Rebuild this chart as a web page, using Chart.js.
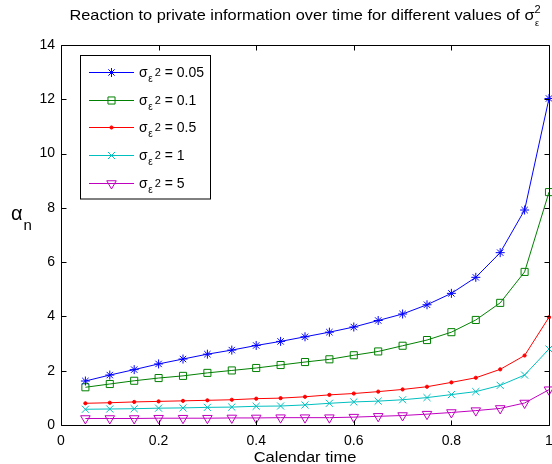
<!DOCTYPE html>
<html>
<head>
<meta charset="utf-8">
<script src="https://cdn.jsdelivr.net/npm/chart.js@4.4.1/dist/chart.umd.min.js"></script>
<style>
  html, body { margin: 0; padding: 0; background: #ffffff; }
  canvas { display: block; }
</style>
</head>
<body>
<canvas id="chart" width="552" height="464"></canvas>
<script>
// Calendar time grid (x) and reaction coefficient alpha_n for each noise variance
const calendarTime = [0.05, 0.10, 0.15, 0.20, 0.25, 0.30, 0.35, 0.40, 0.45, 0.50,
                      0.55, 0.60, 0.65, 0.70, 0.75, 0.80, 0.85, 0.90, 0.95, 1.00];

const alphaVar005 = [1.62, 1.84, 2.04, 2.25, 2.43, 2.61, 2.76, 2.93, 3.08, 3.25,
                     3.42, 3.61, 3.85, 4.09, 4.43, 4.85, 5.44, 6.35, 7.92, 12.03];
const alphaVar01  = [1.39, 1.51, 1.63, 1.73, 1.81, 1.92, 2.01, 2.10, 2.21, 2.32,
                     2.42, 2.57, 2.71, 2.92, 3.13, 3.42, 3.87, 4.50, 5.64, 8.58];
const alphaVar05  = [0.80, 0.82, 0.85, 0.87, 0.89, 0.91, 0.93, 0.97, 0.99, 1.04,
                     1.11, 1.16, 1.23, 1.31, 1.41, 1.57, 1.74, 2.05, 2.56, 3.97];
const alphaVar1   = [0.58, 0.59, 0.60, 0.62, 0.63, 0.65, 0.66, 0.69, 0.70, 0.74,
                     0.80, 0.85, 0.88, 0.93, 1.01, 1.12, 1.23, 1.46, 1.84, 2.80];
const alphaVar5   = [0.24, 0.24, 0.24, 0.25, 0.25, 0.25, 0.26, 0.26, 0.27, 0.27,
                     0.27, 0.29, 0.32, 0.35, 0.40, 0.46, 0.53, 0.61, 0.81, 1.30];

const varianceLabels = ['0.05', '0.1', '0.5', '1', '5'];
const xTickValues = [0, 0.2, 0.4, 0.6, 0.8, 1];
const yTickValues = [0, 2, 4, 6, 8, 10, 12, 14];

const FONT = "'Liberation Sans', Arial, Helvetica, sans-serif";

const seriesStyles = [
  { color: '#0000ff', pointStyle: 'star',     radius: 4.5, rotation: 0,   fill: false },
  { color: '#008000', pointStyle: 'rect',     radius: 5,   rotation: 0,   fill: false },
  { color: '#ff0000', pointStyle: 'circle',   radius: 1.6, rotation: 0,   fill: true  },
  { color: '#00bfbf', pointStyle: 'crossRot', radius: 5,   rotation: 0,   fill: false },
  { color: '#bf00bf', pointStyle: 'triangle', radius: 5.5, rotation: 180, fill: false }
];

const seriesValues = [alphaVar005, alphaVar01, alphaVar05, alphaVar1, alphaVar5];

// Markers may overhang the axes box; keep the box itself flush with the canvas edge
Chart.LineController.prototype.getMaxOverflow = function () { return 0; };

const datasets = seriesValues.map((vals, i) => {
  const s = seriesStyles[i];
  return {
    label: 'σε² = ' + varianceLabels[i],
    data: calendarTime.map((t, k) => ({ x: t, y: vals[k] })),
    borderColor: s.color,
    borderWidth: 1,
    backgroundColor: s.color,
    pointStyle: s.pointStyle,
    pointRadius: s.radius,
    pointRotation: s.rotation,
    pointBorderColor: s.color,
    pointBorderWidth: 1,
    pointBackgroundColor: s.fill ? s.color : 'rgba(0,0,0,0)',
    tension: 0,
    fill: false,
    clip: false
  };
});

// Closed axes box with inward tick marks on all four sides
const framePlugin = {
  id: 'frame',
  afterDraw(chart) {
    const { ctx, chartArea: a, scales } = chart;
    const L = Math.round(a.left) + 0.5, R = Math.round(a.right) + 0.5;
    const T = Math.round(a.top) + 0.5, B = Math.round(a.bottom) + 0.5;
    const tl = 5;
    ctx.save();
    ctx.strokeStyle = '#000';
    ctx.lineWidth = 1;
    ctx.beginPath();
    ctx.rect(L, T, R - L, B - T);
    xTickValues.forEach(v => {
      const px = Math.round(scales.x.getPixelForValue(v)) + 0.5;
      ctx.moveTo(px, B); ctx.lineTo(px, B - tl);
      ctx.moveTo(px, T); ctx.lineTo(px, T + tl);
    });
    yTickValues.forEach(v => {
      const py = Math.round(scales.y.getPixelForValue(v)) + 0.5;
      ctx.moveTo(L, py); ctx.lineTo(L + tl, py);
      ctx.moveTo(R, py); ctx.lineTo(R - tl, py);
    });
    ctx.stroke();
    ctx.restore();
  }
};

// Draw text slightly widened horizontally around an anchor point
function wideText(ctx, text, x, y, sx) {
  ctx.save();
  ctx.translate(x, y);
  ctx.scale(sx, 1);
  ctx.fillText(text, 0, 0);
  ctx.restore();
}

// Title, axis labels (with sub/superscripts) and the boxed legend
const textPlugin = {
  id: 'texts',
  afterDraw(chart) {
    const { ctx, chartArea: a } = chart;
    ctx.save();
    ctx.fillStyle = '#000';
    ctx.textBaseline = 'alphabetic';
    ctx.textAlign = 'left';

    // title
    const sx = 1.09;
    const tMain = 'Reaction to private information over time for different values of ';
    ctx.font = '15px ' + FONT;
    const wMain = ctx.measureText(tMain).width * sx;
    const wSig = ctx.measureText('σ').width * sx;
    ctx.font = '11px ' + FONT;
    const wSup = ctx.measureText('2').width;
    const total = wMain + wSig + wSup;
    const cx = (a.left + a.right) / 2;
    const x0 = cx - total / 2;
    const tBase = 20;
    ctx.font = '15px ' + FONT;
    wideText(ctx, tMain, x0, tBase, sx);
    wideText(ctx, 'σ', x0 + wMain, tBase, sx);
    ctx.font = '11px ' + FONT;
    ctx.fillText('2', x0 + wMain + wSig, tBase - 7);
    ctx.font = '9px ' + FONT;
    ctx.fillText('ε', x0 + wMain + wSig + 0.5, tBase + 6);

    // y label: alpha_n
    ctx.font = '20px ' + FONT;
    ctx.fillText('α', 11, 220);
    const wA = ctx.measureText('α').width;
    ctx.font = '15px ' + FONT;
    ctx.fillText('n', 11 + wA + 1, 230);

    // x label
    ctx.font = '15px ' + FONT;
    const wX = ctx.measureText('Calendar time').width * 1.1;
    wideText(ctx, 'Calendar time', cx - wX / 2, 462, 1.1);

    // legend
    const bx = 80.5, by = 55.5, bw = 130, bh = 143.5;
    ctx.fillStyle = '#fff';
    ctx.fillRect(bx, by, bw, bh);
    ctx.strokeStyle = '#000';
    ctx.lineWidth = 1;
    ctx.strokeRect(bx, by, bw, bh);
    const rowY0 = 72, rowStep = 27.7;
    chart.data.datasets.forEach((ds, i) => {
      const s = seriesStyles[i];
      const y = rowY0 + i * rowStep;
      ctx.strokeStyle = s.color;
      ctx.lineWidth = 1;
      ctx.beginPath();
      ctx.moveTo(89, Math.round(y) + 0.5);
      ctx.lineTo(134, Math.round(y) + 0.5);
      ctx.stroke();
      ctx.fillStyle = s.fill ? s.color : 'rgba(0,0,0,0)';
      Chart.helpers.drawPoint(ctx, {
        pointStyle: s.pointStyle, radius: s.radius, rotation: s.rotation, borderWidth: 1
      }, 111.5, Math.round(y) + 0.5);

      ctx.fillStyle = '#000';
      const base = y + 5;
      let tx = 139;
      ctx.font = '14px ' + FONT;
      ctx.fillText('σ', tx, base);
      tx += ctx.measureText('σ').width;
      ctx.font = '10px ' + FONT;
      ctx.fillText('ε', tx + 0.5, base + 5);
      ctx.font = '11px ' + FONT;
      ctx.fillText('2', tx + 7, base - 1);
      tx += 7 + ctx.measureText('2').width;
      ctx.font = '14px ' + FONT;
      ctx.fillText(' = ' + varianceLabels[i], tx, base);
    });
    ctx.restore();
  }
};

new Chart(document.getElementById('chart'), {
  type: 'line',
  data: { datasets },
  options: {
    responsive: false,
    animation: false,
    events: [],
    layout: { padding: { top: 45, right: 3, left: 0, bottom: 0 } },
    plugins: {
      legend: { display: false },
      title: { display: false },
      tooltip: { enabled: false }
    },
    scales: {
      x: {
        type: 'linear',
        min: 0, max: 1,
        afterBuildTicks: s => { s.ticks = xTickValues.map(v => ({ value: v })); },
        afterFit: s => { s.height = 39; s.paddingLeft = 0; s.paddingRight = 0; },
        grid: { display: false, drawTicks: false },
        border: { display: false },
        ticks: {
          color: '#000',
          font: { family: FONT, size: 14 },
          padding: 8,
          maxRotation: 0,
          autoSkip: false,
          callback: v => String(Math.round(v * 10) / 10)
        }
      },
      y: {
        type: 'linear',
        min: 0, max: 14,
        afterBuildTicks: s => { s.ticks = yTickValues.map(v => ({ value: v })); },
        afterFit: s => { s.width = 61; s.paddingTop = 0; s.paddingBottom = 0; },
        grid: { display: false, drawTicks: false },
        border: { display: false },
        ticks: {
          color: '#000',
          font: { family: FONT, size: 14 },
          padding: 6,
          autoSkip: false,
          callback: v => String(v)
        }
      }
    }
  },
  plugins: [framePlugin, textPlugin]
});
</script>
</body>
</html>
